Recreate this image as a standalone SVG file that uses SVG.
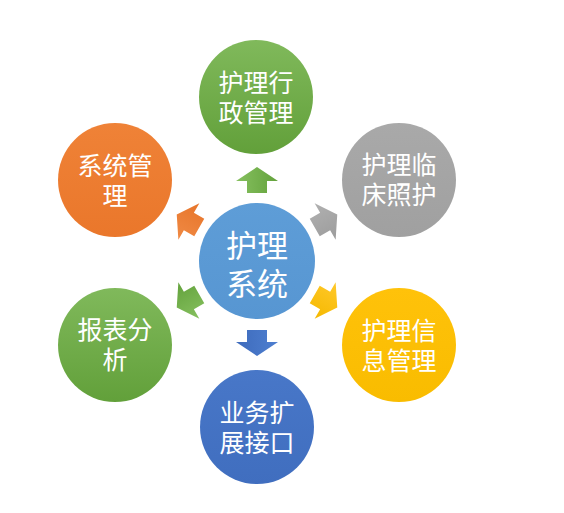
<svg xmlns="http://www.w3.org/2000/svg" width="564" height="513" viewBox="0 0 564 513">
<defs>
<linearGradient id="gGreen" x1="0" y1="0" x2="0" y2="1"><stop offset="0" stop-color="#80B95B"/><stop offset="1" stop-color="#62A03A"/></linearGradient>
<linearGradient id="gOrange" x1="0" y1="0" x2="0" y2="1"><stop offset="0" stop-color="#EF8237"/><stop offset="1" stop-color="#EA772B"/></linearGradient>
<linearGradient id="gGray" x1="0" y1="0" x2="0" y2="1"><stop offset="0" stop-color="#A9A9A9"/><stop offset="1" stop-color="#A0A0A0"/></linearGradient>
<linearGradient id="gYellow" x1="0" y1="0" x2="0" y2="1"><stop offset="0" stop-color="#FFC20A"/><stop offset="1" stop-color="#F9BC00"/></linearGradient>
<linearGradient id="gBlue" x1="0" y1="0" x2="0" y2="1"><stop offset="0" stop-color="#4877C8"/><stop offset="1" stop-color="#406EBF"/></linearGradient>
<linearGradient id="gCenter" x1="0" y1="0" x2="0" y2="1"><stop offset="0" stop-color="#5E9DD7"/><stop offset="1" stop-color="#5796D2"/></linearGradient>
<linearGradient id="aGreen" x1="0" y1="0" x2="1" y2="0"><stop offset="0" stop-color="#86C05F"/><stop offset="1" stop-color="#63A23C"/></linearGradient>
<linearGradient id="aOrange" x1="0" y1="0" x2="1" y2="0"><stop offset="0" stop-color="#F08A45"/><stop offset="1" stop-color="#E7752A"/></linearGradient>
<linearGradient id="aGray" x1="0" y1="0" x2="1" y2="0"><stop offset="0" stop-color="#B0B0B0"/><stop offset="1" stop-color="#9C9C9C"/></linearGradient>
<linearGradient id="aYellow" x1="0" y1="0" x2="1" y2="0"><stop offset="0" stop-color="#FFC82A"/><stop offset="1" stop-color="#F5B900"/></linearGradient>
<linearGradient id="aBlue" x1="0" y1="0" x2="1" y2="0"><stop offset="0" stop-color="#4E7FD0"/><stop offset="1" stop-color="#3E6BBC"/></linearGradient>
<path id="arr" d="M0,-13 L21,1 L10,1 L10,13 L-10,13 L-10,1 L-21,1 Z"/>
</defs>
<style>
text{font-family:"Microsoft YaHei","Noto Sans CJK SC","Noto Sans",sans-serif;fill:#FFFFFF;text-anchor:middle;dominant-baseline:central}
.s{font-size:25px}
.c{font-size:31px}
</style>
<rect width="564" height="513" fill="#FFFFFF"/>
<g id="connectors">
<use href="#arr" fill="url(#aGreen)" transform="translate(257,180)"/>
<use href="#arr" fill="url(#aGray)" transform="translate(326,221) rotate(60)"/>
<use href="#arr" fill="url(#aYellow)" transform="translate(326,301) rotate(120)"/>
<use href="#arr" fill="url(#aBlue)" transform="translate(257,343) rotate(180)"/>
<use href="#arr" fill="url(#aGreen)" transform="translate(188,301) rotate(240)"/>
<use href="#arr" fill="url(#aOrange)" transform="translate(188,221) rotate(300)"/>
</g>
<g id="center">
<circle cx="257" cy="261" r="58" fill="url(#gCenter)"/>
<text class="c" x="257" y="243">护理<tspan x="257" dy="38">系统</tspan></text>
</g>
<g id="n-admin">
<circle cx="256" cy="97" r="57" fill="url(#gGreen)"/>
<text class="s" x="256" y="81">护理行<tspan x="256" dy="30">政管理</tspan></text>
</g>
<g id="n-clinical">
<circle cx="399" cy="180" r="57" fill="url(#gGray)"/>
<text class="s" x="399" y="163">护理临<tspan x="399" dy="30">床照护</tspan></text>
</g>
<g id="n-info">
<circle cx="399" cy="345" r="57" fill="url(#gYellow)"/>
<text class="s" x="399" y="329">护理信<tspan x="399" dy="30">息管理</tspan></text>
</g>
<g id="n-interface">
<circle cx="257" cy="427" r="57" fill="url(#gBlue)"/>
<text class="s" x="257" y="411">业务扩<tspan x="257" dy="30">展接口</tspan></text>
</g>
<g id="n-report">
<circle cx="115" cy="345" r="57" fill="url(#gGreen)"/>
<text class="s" x="115" y="328">报表分<tspan x="115" dy="30">析</tspan></text>
</g>
<g id="n-system">
<circle cx="115" cy="180" r="57" fill="url(#gOrange)"/>
<text class="s" x="115" y="164">系统管<tspan x="115" dy="30">理</tspan></text>
</g>
</svg>
